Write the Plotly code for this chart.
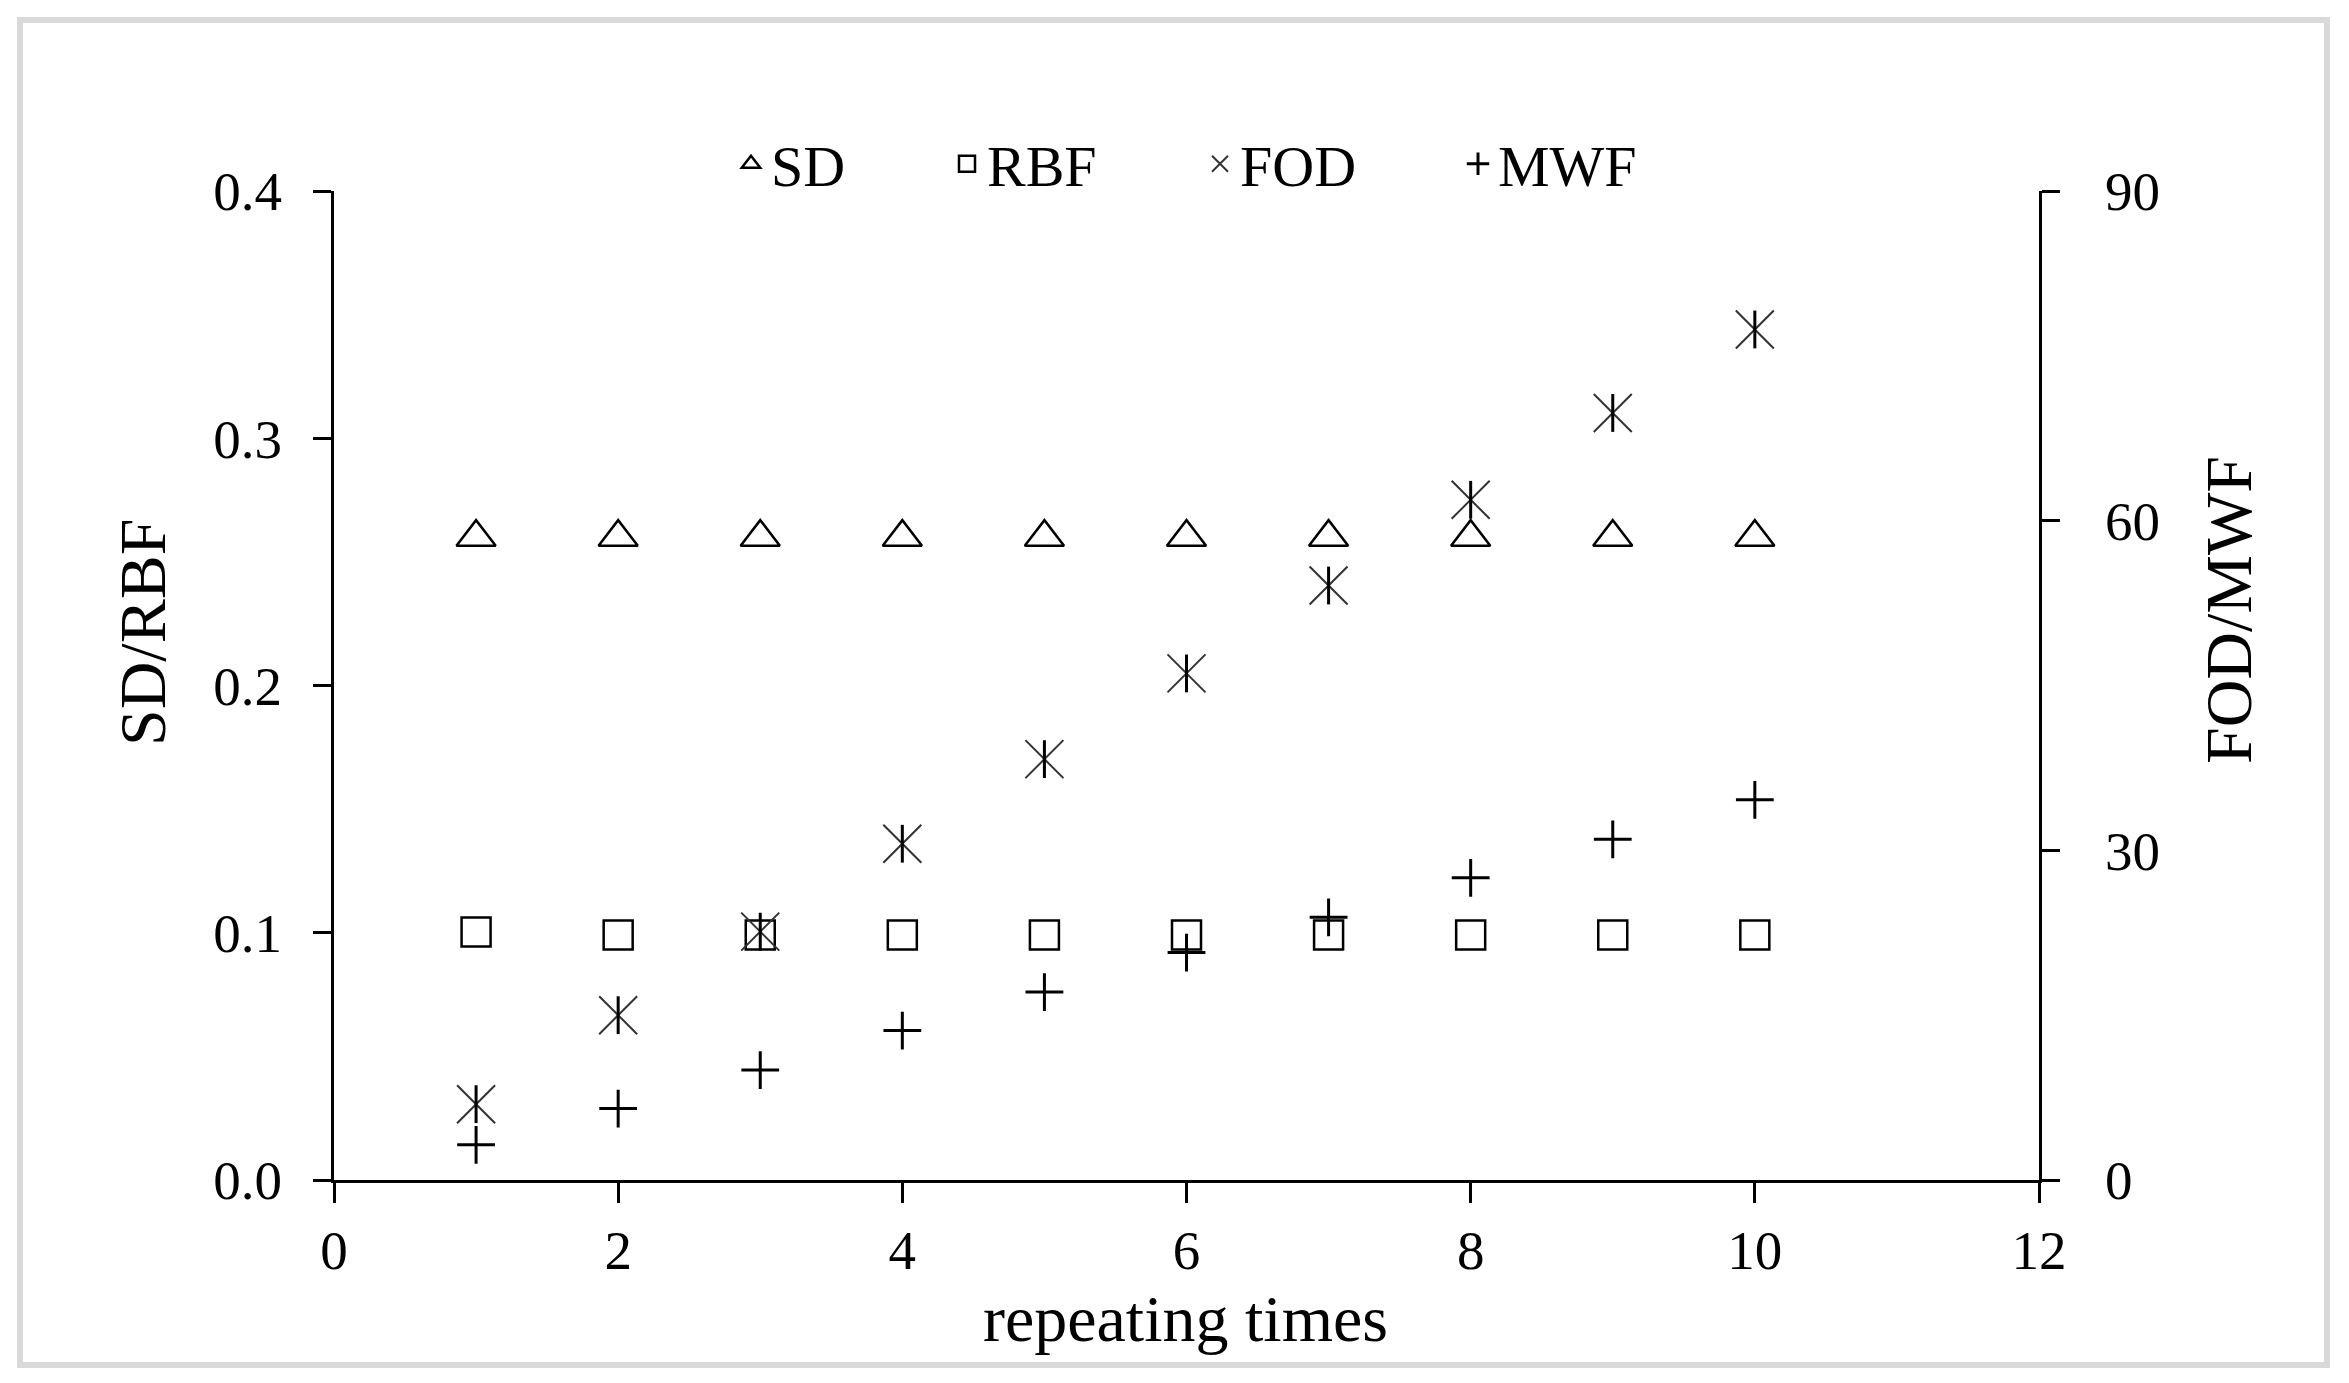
import plotly.graph_objects as go

# ---- data ----
repeat_times = [1, 2, 3, 4, 5, 6, 7, 8, 9, 10]
sd_values = [0.26, 0.26, 0.26, 0.26, 0.26, 0.26, 0.26, 0.26, 0.26, 0.26]
rbf_values = [0.1003, 0.0991, 0.0991, 0.0991, 0.0991, 0.0991, 0.0991, 0.0991, 0.0991, 0.0991]
fod_values = [6.9, 15.0, 22.6, 30.6, 38.3, 46.1, 54.1, 61.9, 69.8, 77.4]
mwf_values = [3.2, 6.5, 10.0, 13.6, 17.1, 20.7, 23.9, 27.5, 31.0, 34.6]

x_ticks = [0, 2, 4, 6, 8, 10, 12]
y_left_ticks = [0.0, 0.1, 0.2, 0.3, 0.4]
y_right_ticks = [0, 30, 60, 90]

FONT = "Liberation Serif"
OFF = 8  # default page body margin
W, H = 2349 - 2 * OFF, 1383 - 2 * OFF
# plot area in screen pixels
L, R, T, B = 334, 2039, 191, 1180
pw, ph = R - L, B - T


def px_x(p):
    return (p - L) / pw


def px_y(p):
    return (B - p) / ph


fig = go.Figure()

fig.add_trace(go.Scatter(
    x=repeat_times, y=sd_values, mode="markers", name="SD", legend="legend",
    marker=dict(symbol="triangle-up-open", size=34, color="black",
                line=dict(color="black", width=2.5)),
))
fig.add_trace(go.Scatter(
    x=repeat_times, y=rbf_values, mode="markers", name="RBF", legend="legend2",
    marker=dict(symbol="square-open", size=29, color="black",
                line=dict(color="black", width=2.5)),
))
fig.add_trace(go.Scatter(
    x=repeat_times, y=fod_values, mode="markers", name="FOD", yaxis="y2", legend="legend3",
    marker=dict(symbol="x-thin", size=38, color="#333333",
                line=dict(color="#333333", width=2)),
))
fig.add_trace(go.Scatter(
    x=repeat_times, y=fod_values, mode="markers", name="FOD", yaxis="y2",
    showlegend=False, hoverinfo="skip",
    marker=dict(symbol="line-ns", size=27, color="black",
                line=dict(color="black", width=3)),
))
fig.add_trace(go.Scatter(
    x=repeat_times, y=mwf_values, mode="markers", name="MWF", yaxis="y2", legend="legend4",
    marker=dict(symbol="cross-thin", size=27, color="black",
                line=dict(color="black", width=3)),
))

axis_common = dict(
    showline=True, linecolor="black", linewidth=3,
    ticks="outside", tickcolor="black", tickwidth=3,
    showgrid=False, zeroline=False,
    tickfont=dict(family=FONT, size=55, color="black"),
)

legend_common = dict(
    orientation="h", yanchor="middle", y=px_y(164), xanchor="left",
    font=dict(family=FONT, size=58, color="black"),
    bgcolor="rgba(0,0,0,0)", borderwidth=0, itemwidth=30,
)

fig.update_layout(
    width=W, height=H,
    margin=dict(l=L - OFF, r=W - (R - OFF), t=T - OFF, b=H - (B - OFF), autoexpand=False),
    paper_bgcolor="white", plot_bgcolor="white",
    showlegend=True,
    xaxis=dict(range=[0, 12], tickvals=x_ticks, ticklen=20,
               ticklabelstandoff=0, **axis_common),
    yaxis=dict(range=[0, 0.4], tickvals=y_left_ticks, tickformat=".1f", ticklen=18,
               ticklabelstandoff=20, **axis_common),
    yaxis2=dict(range=[0, 90], tickvals=y_right_ticks, overlaying="y", side="right",
                ticklen=18, ticklabelstandoff=34, **axis_common),
    legend=dict(x=px_x(731), **legend_common),
    legend2=dict(x=px_x(947), **legend_common),
    legend3=dict(x=px_x(1200), **legend_common),
    legend4=dict(x=px_x(1458), **legend_common),
    annotations=[
        dict(text="SD/RBF", xref="paper", yref="paper", x=px_x(142), y=px_y(633),
             textangle=-90, showarrow=False, xanchor="center", yanchor="middle",
             font=dict(family=FONT, size=66, color="black")),
        dict(text="FOD/MWF", xref="paper", yref="paper", x=px_x(2228), y=px_y(610),
             textangle=-90, showarrow=False, xanchor="center", yanchor="middle",
             font=dict(family=FONT, size=66, color="black")),
        dict(text="repeating times", xref="paper", yref="paper", x=px_x(1185), y=px_y(1318),
             showarrow=False, xanchor="center", yanchor="middle",
             font=dict(family=FONT, size=66, color="black")),
    ],
    shapes=[
        dict(type="rect", xref="paper", yref="paper",
             x0=px_x(20), x1=px_x(2327), y0=px_y(1365), y1=px_y(20),
             line=dict(color="#d9d9d9", width=6), fillcolor="rgba(0,0,0,0)", layer="below"),
    ],
)

fig.write_html("out.html")
